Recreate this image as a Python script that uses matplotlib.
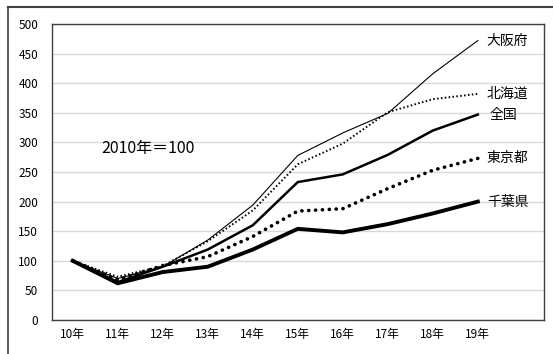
import matplotlib
matplotlib.use("Agg")
import matplotlib.pyplot as plt
from matplotlib.lines import Line2D

plt.rcParams['font.family'] = ['Noto Sans CJK JP', 'DejaVu Sans']

# data (2010 = 100)
years = ["10年", "11年", "12年", "13年", "14年", "15年", "16年", "17年", "18年", "19年"]
osaka = [100, 70, 90, 135, 194, 278, 316, 349, 416, 472]
hokkaido = [100, 73, 91, 133, 185, 263, 298, 351, 373, 382]
zenkoku = [100, 64, 90, 119, 160, 233, 246, 279, 320, 347]
tokyo = [100, 68, 92, 107, 141, 184, 188, 222, 253, 273]
chiba = [100, 62, 81, 90, 119, 154, 148, 162, 180, 200]

fig = plt.figure(figsize=(5.53, 3.54), dpi=100)
ax = fig.add_axes([52 / 553, 34 / 354, 492 / 553, 296 / 354])

x = list(range(len(years)))
series = [
    ("大阪府", osaka, dict(lw=0.8, ls="-"), 9),
    ("北海道", hokkaido, dict(lw=1.4, ls=(0, (0.8, 1.2))), 9),
    ("全国", zenkoku, dict(lw=1.8, ls="-"), 12),
    ("東京都", tokyo, dict(lw=2.6, ls=(0, (0.05, 1.85)), dash_capstyle="round"), 9),
    ("千葉県", chiba, dict(lw=2.8, ls="-"), 9),
]
for name, vals, style, dx in series:
    ax.plot(x, vals, color="black", zorder=3, **style)
    ax.annotate(name, xy=(x[-1], vals[-1]), xytext=(dx, 0), textcoords="offset pixels",
                fontsize=10, va="center", ha="left")

ax.set_xlim(-0.46, 10.47)
ax.set_ylim(0, 500)
ax.set_yticks(range(0, 501, 50))
ax.set_xticks(x)
ax.set_xticklabels(years)
ax.tick_params(axis="both", length=0, labelsize=8.5)
ax.tick_params(axis="y", pad=10)
ax.tick_params(axis="x", pad=6)
ax.grid(axis="y", color="#d9d9d9", lw=1.0, zorder=0)
ax.set_axisbelow(True)
for sp in ax.spines.values():
    sp.set_color("#404040")
    sp.set_linewidth(1.0)

ax.text(0.64, 290, "2010年＝100", fontsize=11.5, ha="left", va="center")

# outer chart frame (left and top edges visible)
fx = 8 / 553
fy = 1 - 7 / 354
fig.add_artist(Line2D([fx, fx], [0, fy], transform=fig.transFigure, color="#606060", lw=1.5))
fig.add_artist(Line2D([fx, 1], [fy, fy], transform=fig.transFigure, color="#404040", lw=1.5))

fig.savefig("out.png", dpi=100)
